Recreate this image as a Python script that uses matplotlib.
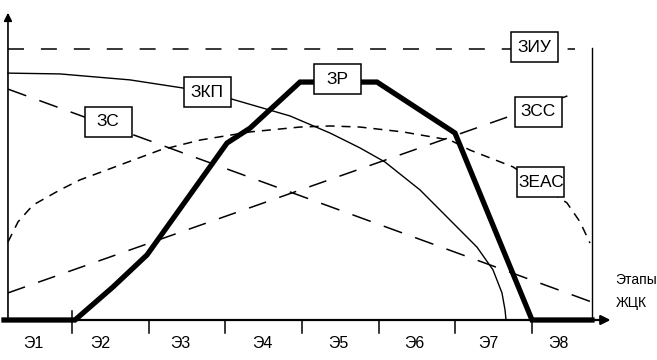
"""Life-cycle stages chart: cost curves against the stages of the cycle."""

import matplotlib

matplotlib.use("Agg")
import matplotlib.pyplot as plt
from matplotlib import font_manager
from matplotlib.patches import Rectangle

# x: stage boundaries (1..7 are the tick marks), y: relative level (ЗИУ = 100)
stage_ticks = [1, 2, 3, 4, 5, 6, 7]
stage_labels = ["Э1", "Э2", "Э3", "Э4", "Э5", "Э6", "Э7", "Э8"]
stage_label_x = [0.49, 1.37, 2.41, 3.48, 4.47, 5.46, 6.43, 7.34]

ziu_x = [0.165, 7.56]
ziu_y = [100, 100]

zkp_x = [0.165, 0.843, 1.756, 2.448, 3.087, 3.843, 4.365, 4.756, 5.082,
         5.539, 5.930, 6.282, 6.491, 6.608, 6.648, 6.661]
zkp_y = [91.1, 90.8, 88.6, 85.6, 81.5, 75.3, 69.0, 63.5, 58.3,
         48.0, 36.9, 26.9, 18.5, 10.0, 3.7, 0.0]

zr_x = [0.113, 1.039, 1.535, 1.978, 3.022, 3.322, 3.974, 4.978, 5.995, 7.0, 7.782]
zr_y = [0.0, 0.0, 12.2, 24.0, 65.3, 70.8, 87.8, 87.8, 69.0, 0.0, 0.0]

zs_x = [0.165, 7.782]
zs_y = [85.2, 6.6]

zss_x = [0.165, 7.534]
zss_y = [10.0, 83.4]

zeas_x = [0.165, 0.296, 0.491, 0.843, 1.104, 1.457, 1.796, 2.148, 2.670, 3.322,
          3.974, 4.365, 4.756, 5.317, 5.930, 6.191, 6.752, 7.456, 7.626, 7.756]
zeas_y = [28.8, 36.2, 42.4, 48.0, 51.7, 55.4, 59.0, 62.7, 66.4, 69.4,
          71.2, 71.6, 71.2, 69.4, 66.4, 62.7, 56.5, 43.2, 36.2, 28.4]

box_labels = ["ЗИУ", "ЗКП", "ЗС", "ЗР", "ЗСС", "ЗЕАС"]
box_x = [7.026, 2.761, 1.470, 4.469, 7.078, 7.117]
box_y = [100.7, 84.1, 73.1, 88.9, 76.8, 50.9]

names = {f.name for f in font_manager.fontManager.ttflist}
family = ["Liberation Sans Narrow", "DejaVu Sans"] if "Liberation Sans Narrow" in names else ["Liberation Sans", "DejaVu Sans"]
plt.rcParams["font.family"] = family
plt.rcParams["lines.scale_dashes"] = False

fig = plt.figure(figsize=(6.57, 3.6), dpi=100)
ax = fig.add_axes([0, 0, 1, 1])
ax.set_xlim(0.061, 8.630)
ax.set_ylim(-14.76, 118.08)
ax.axis("off")

# axes with arrows
ax.annotate("", xy=(8.06, 0), xytext=(0.11, 0),
            arrowprops=dict(arrowstyle="-|>", lw=1.6, color="black", mutation_scale=14))
ax.annotate("", xy=(0.165, 114.4), xytext=(0.165, 0),
            arrowprops=dict(arrowstyle="-|>", lw=1.2, color="black", mutation_scale=12))
ax.plot([7.782, 7.782], [0, 100.4], color="black", lw=1.0)

for t in stage_ticks:
    top = 3.5 if t == 1 else 0
    ax.plot([t, t], [top, -4.8], color="black", lw=1.1)
for x, lab in zip(stage_label_x, stage_labels):
    ax.text(x, -8.7, lab, ha="center", va="center", fontsize=11.5)

ax.text(8.09, 14.8, "Этапы", ha="left", va="center", fontsize=10)
ax.text(8.09, 6.3, "ЖЦК", ha="left", va="center", fontsize=10)

ax.plot(ziu_x, ziu_y, color="black", lw=1.1, linestyle=(0, (11.5, 12.2)))
ax.plot(zs_x, zs_y, color="black", lw=1.1, linestyle=(0, (14, 10)))
ax.plot(zss_x, zss_y, color="black", lw=1.1, linestyle=(0, (13, 10)))
ax.plot(zeas_x, zeas_y, color="black", lw=1.1, linestyle=(0, (6.5, 5)))
ax.plot(zkp_x, zkp_y, color="black", lw=1.0)
ax.plot(zr_x, zr_y, color="black", lw=3.8, solid_joinstyle="miter", zorder=3)

# label boxes of fixed size
bw, bh = 0.613, 11.07
for x, y, lab in zip(box_x, box_y, box_labels):
    ax.add_patch(Rectangle((x - bw / 2, y - bh / 2), bw, bh, facecolor="white",
                           edgecolor="black", lw=1.1, zorder=5))
    ax.text(x, y, lab, ha="center", va="center", fontsize=12.5, zorder=6)

fig.savefig("out.png", dpi=100)
